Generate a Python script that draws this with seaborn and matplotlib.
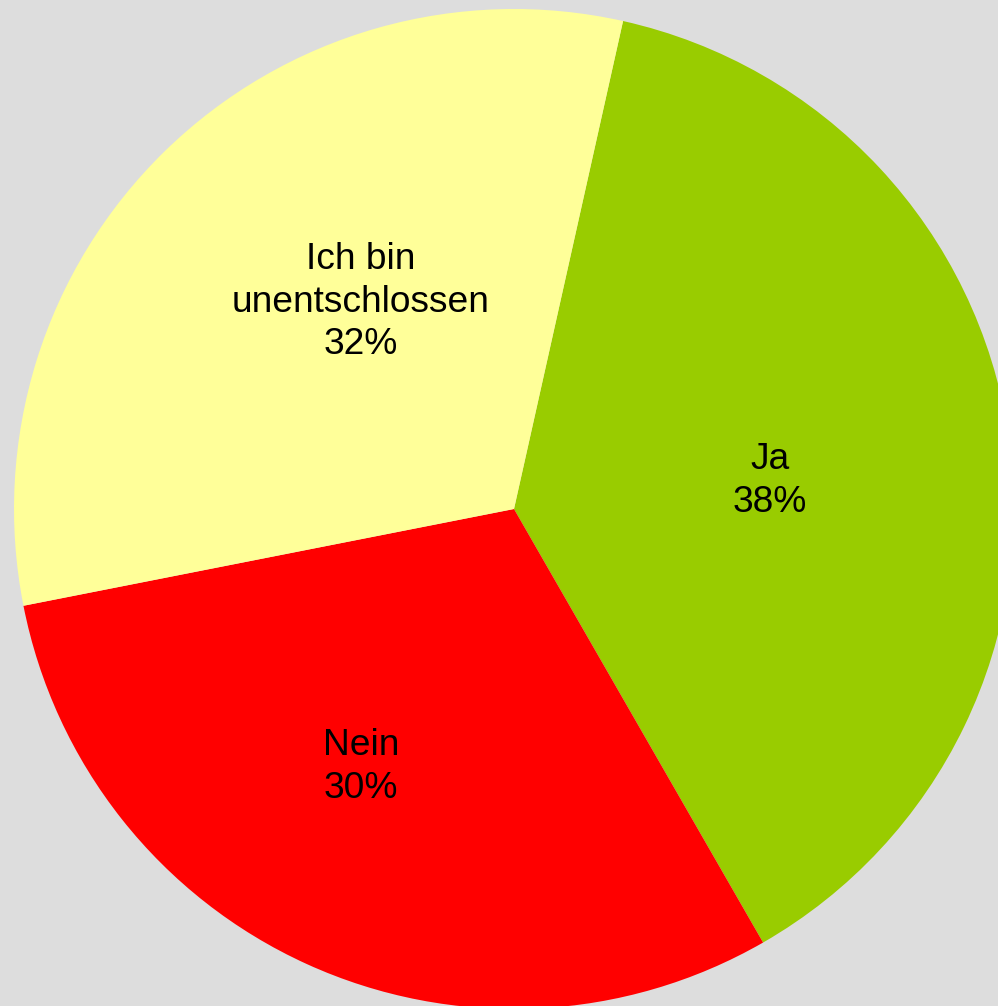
import matplotlib.pyplot as plt
import seaborn as sns

# slices, clockwise starting from the top (shares)
categories = ["Ja", "Nein", "Ich bin\nunentschlossen"]
shares = [38.2, 30.2, 31.6]
colors = ["#99CC00", "#FF0000", "#FFFF99"]

sns.set_theme(style="white")
plt.rcParams["font.family"] = ["Liberation Sans", "DejaVu Sans"]

fig = plt.figure(figsize=(9.98, 10.06), dpi=100)
fig.patch.set_facecolor("#DDDDDD")
ax = fig.add_axes([0, 0, 1, 1])
ax.set_facecolor("#DDDDDD")

labels = [f"{c}\n{round(s)}%" for c, s in zip(categories, shares)]
wedges, texts = ax.pie(
    shares,
    colors=colors,
    labels=labels,
    startangle=77.4,
    counterclock=False,
    labeldistance=0.55,
    wedgeprops={"linewidth": 0, "edgecolor": "none"},
    textprops={"fontsize": 26.7, "color": "black", "ha": "center", "va": "center",
               "linespacing": 1.28},
)
# nudge the labels to where the original chart puts them
for t, pos in zip(texts, [(0.512, 0.056), (-0.306, -0.516), (-0.306, 0.414)]):
    t.set_position(pos)
    t.set_horizontalalignment("center")
    t.set_verticalalignment("center")

ax.set_xlim(-1.028, 0.968)
ax.set_ylim(-0.994, 1.018)
ax.set_aspect("equal")
ax.axis("off")

fig.savefig("out.png", dpi=100, facecolor=fig.get_facecolor())
plt.close()
